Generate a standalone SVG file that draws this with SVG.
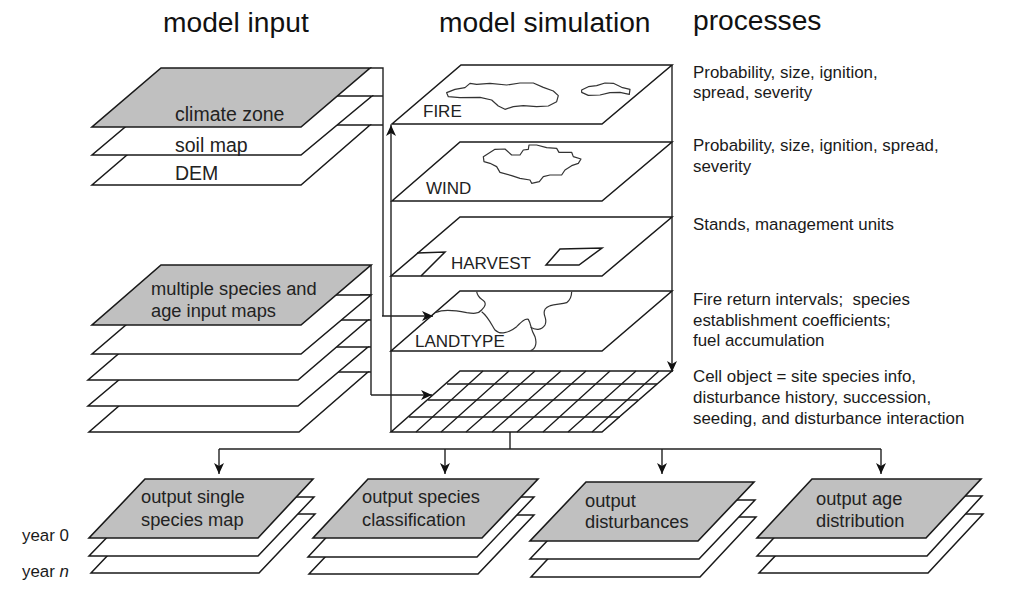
<svg xmlns="http://www.w3.org/2000/svg" width="1029" height="601" viewBox="0 0 1029 601">
<style>
text{font-family:"Liberation Sans",Arial,sans-serif;font-size:18.3px;fill:#222}
.title{font-size:28.2px;fill:#111}
.p{font-size:16.9px;fill:#1a1a1a}
.b{font-size:19.5px}
.m{font-size:17px}
.l{fill:#fff;stroke:#1a1a1a;stroke-width:1.5;stroke-linejoin:miter}
.g{fill:#c0c0c0;stroke:#1a1a1a;stroke-width:1.6}
.s{fill:none;stroke:#1a1a1a;stroke-width:1.5}
.c{fill:none;stroke:#222;stroke-width:1.4}
.a{marker-end:url(#arr)}
.t{fill:none;stroke:#333;stroke-width:3.6;stroke-linejoin:round}
.grid{fill:none;stroke:#1a1a1a;stroke-width:1.3}
</style>
<defs>
<marker id="arr" markerUnits="userSpaceOnUse" markerWidth="12" markerHeight="12" refX="11" refY="6" orient="auto">
<path d="M0,1 L11,6 L0,11 L3,6 Z" fill="#111"/>
</marker>
</defs>
<rect width="1029" height="601" fill="#fff"/>

<g id="titles">
<text class="title" x="163" y="32">model input</text>
<text class="title" x="439" y="32">model simulation</text>
<text class="title" x="693" y="30">processes</text>
</g>

<g id="connectors">
<path class="c" d="M370,68H383V316M372,96H383M370,125H383"/>
<path class="c a" d="M382,316H433" stroke-width="1.8"/>
<path class="c" d="M371,265V395M371,295H360M368,320H371M368,347H371M368,372H371"/>
<path class="c a" d="M371,395H432"/>
<path class="c a" d="M391,432V125"/>
<path class="c a" d="M672,65V372"/>
<path class="c" d="M510,432V449M219,449H881"/>
<path class="c a" d="M219,449V474"/>
<path class="c a" d="M445,449V474"/>
<path class="c a" d="M662,449V474"/>
<path class="c a" d="M881,449V474"/>
</g>

<g id="input-climate">
<polygon class="l" points="162,125 370,125 301,185 92,185"/>
<polygon class="l" points="162,96 372,96 301,155 92,155"/>
<polygon class="g" points="161,68 370,68 301,127 92,127"/>
<text class="b" x="175" y="121">climate zone</text>
<text class="b" x="175" y="152">soil map</text>
<text class="b" x="175" y="180">DEM</text>
</g>

<g id="input-species">
<polygon class="l" points="158,372 368,372 299,432 89,432"/>
<polygon class="l" points="158,347 368,347 298,406 88,406"/>
<polygon class="l" points="158,320 368,320 298,380 88,380"/>
<polygon class="l" points="161,295 371,295 301,354 92,354"/>
<polygon class="g" points="161,265 371,265 301,325 92,325"/>
<text x="151" y="295">multiple species and</text>
<text x="151" y="317">age input maps</text>
</g>

<g id="sim-fire">
<polygon class="s" points="461,65 672,65 602,124 392,124"/>
<g transform="translate(380 55) scale(.3333)">
<path class="t" d="M200,113L225,103L255,98L270,85L290,88L330,85L380,90L420,84L460,84L490,97L520,108L535,122L530,140L505,153L470,155L430,152L400,155L375,163L355,153L335,135L300,127L240,128L205,125Z"/>
<path class="t" d="M605,105L625,95L650,92L675,84L700,85L725,97L750,103L748,118L720,112L690,113L660,120L625,121L605,112Z"/>
</g>
<text class="m" x="423" y="117">FIRE</text>
</g>

<g id="sim-wind">
<polygon class="s" points="460,142 672,142 602,201 392,201"/>
<g transform="translate(380 55) scale(.3333)">
<path class="t" d="M310,305L345,283L375,282L395,300L420,300L430,285L445,283L447,270L470,270L500,278L530,280L537,292L575,292L580,305L603,312L595,325L575,332L555,345L545,360L510,360L490,365L478,380L455,385L450,375L420,370L395,362L360,352L350,335L330,325L312,320Z"/>
</g>
<text class="m" x="426" y="194">WIND</text>
</g>

<g id="sim-harvest">
<polygon class="s" points="460,217 672,217 602,276 391,276"/>
<path class="s" d="M417,253L445,252L421,276M546,265H579L602,248L560,249Z" stroke-width="1.1"/>
<text class="m" x="451" y="269">HARVEST</text>
</g>

<g id="sim-landtype">
<polygon class="s" points="460,291 672,291 602,351 391,351"/>
<g transform="translate(360 250) scale(.3333)">
<path class="t" d="M228,187C245,180 280,180 320,188C340,191 355,192 365,180C372,172 385,160 365,148C358,143 352,135 350,125"/>
<path class="t" d="M365,185C385,200 395,225 405,240C420,255 445,250 470,230C485,215 495,205 505,208C515,225 510,235 525,260C530,275 530,295 512,302"/>
<path class="t" d="M512,232C525,240 545,242 555,225C565,205 545,195 555,178C565,160 600,165 620,158C630,150 635,140 635,125"/>
</g>
<text class="m" x="415" y="347">LANDTYPE</text>
</g>

<g id="sim-grid">
<polygon class="s" points="460,371 672,371 602,432 391,432"/>
<path class="grid" d="M416,432L483,371M441,432L509,371M466,432L535,371M492,432L561,371M517,432L586,371M543,432L610,371M568,432L636,371M592,432L659,371"/>
<path class="grid" d="M447,384H657M428,400H638M409,417H620"/>
</g>

<g id="process-text">
<text class="p" x="693" y="78">Probability, size, ignition,</text>
<text class="p" x="693" y="98">spread, severity</text>
<text class="p" x="693" y="151">Probability, size, ignition, spread,</text>
<text class="p" x="693" y="172">severity</text>
<text class="p" x="693" y="230">Stands, management units</text>
<text class="p" x="693" y="305">Fire return intervals;&#160; species</text>
<text class="p" x="693" y="326">establishment coefficients;</text>
<text class="p" x="693" y="346">fuel accumulation</text>
<text class="p" x="693" y="382">Cell object = site species info,</text>
<text class="p" x="693" y="403">disturbance history, succession,</text>
<text class="p" x="693" y="424">seeding, and disturbance interaction</text>
</g>

<g id="output-single">
<polygon class="l" points="147,514 315,514 259,573 91,573"/>
<polygon class="l" points="146,497 314,497 258,556 89,556"/>
<polygon class="g" points="145,479 313,479 258,538 89,538"/>
<text x="141" y="503">output single</text>
<text x="141" y="526">species map</text>
</g>

<g id="output-classification">
<polygon class="l" points="365,515 534,515 478,574 309,574"/>
<polygon class="l" points="364,497 534,497 477,557 308,557"/>
<polygon class="g" points="368,479 538,479 482,538 313,538"/>
<text x="362" y="503">output species</text>
<text x="362" y="526">classification</text>
</g>

<g id="output-disturbances">
<polygon class="l" points="587,517 756,517 700,577 531,577"/>
<polygon class="l" points="586,500 755,500 699,559 530,559"/>
<polygon class="g" points="586,482 754,482 698,541 530,541"/>
<text x="585" y="507">output</text>
<text x="585" y="528">disturbances</text>
</g>

<g id="output-age">
<polygon class="l" points="815,514 983,514 928,573 759,573"/>
<polygon class="l" points="813,496 982,496 927,556 757,556"/>
<polygon class="g" points="812,479 981,479 926,538 757,538"/>
<text x="816" y="505">output age</text>
<text x="816" y="527">distribution</text>
</g>

<g id="years">
<text class="p" x="22" y="541">year 0</text>
<text class="p" x="22" y="577">year <tspan font-style="italic">n</tspan></text>
</g>
</svg>
